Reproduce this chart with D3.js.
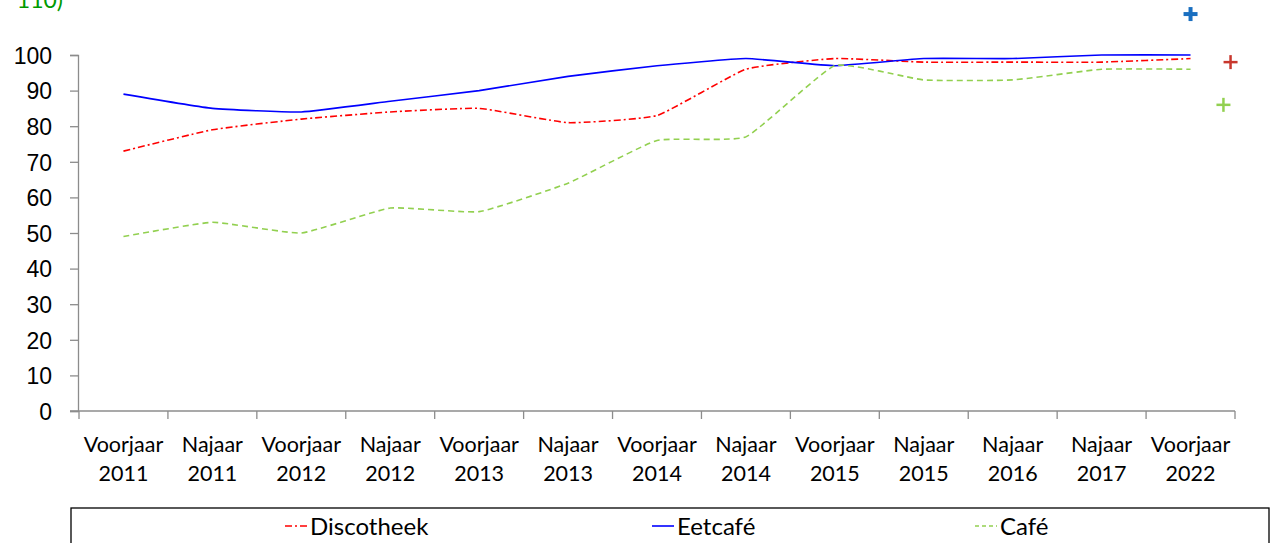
<!DOCTYPE html>
<html>
<head>
<meta charset="utf-8">
<script src="https://cdn.jsdelivr.net/npm/d3@7"></script>
<style>
  body { margin: 0; background: #fff; }
  svg { display: block; font-family: Lato, "Open Sans", sans-serif; }
</style>
</head>
<body>
<svg width="1271" height="543"></svg>
<script>
// categories along the x axis (two lines each)
const categories = ["Voorjaar 2011", "Najaar 2011", "Voorjaar 2012", "Najaar 2012", "Voorjaar 2013",
  "Najaar 2013", "Voorjaar 2014", "Najaar 2014", "Voorjaar 2015", "Najaar 2015",
  "Najaar 2016", "Najaar 2017", "Voorjaar 2022"];

const discotheek = [73, 79, 82, 84, 85, 81, 83, 96, 99, 98, 98, 98, 99];
const eetcafe    = [89, 85, 84, 87, 90, 94, 97, 99, 97, 99, 99, 100, 100];
const cafe       = [49, 53, 50, 57, 56, 64, 76, 77, 97, 93, 93, 96, 96];

const yTicks = [0, 10, 20, 30, 40, 50, 60, 70, 80, 90, 100];

// loose "+" markers on the right (position in category units, value)
const markerPos    = [12, 12.45, 12.37];
const markerValues = [111.5, 98, 86];

const series = [
  { name: "Discotheek", values: discotheek, color: "#ff0000", dash: "7,3,2,3" },
  { name: "Eetcafé",    values: eetcafe,    color: "#0000ff", dash: null },
  { name: "Café",       values: cafe,       color: "#92d050", dash: "6,4" }
];
const markerStyle = [
  { color: "#1a6fc0", size: 7, width: 4 },
  { color: "#c8372d", size: 7, width: 2.5 },
  { color: "#92d050", size: 7, width: 2.5 }
];

const svg = d3.select("svg");

const xScale = d3.scaleBand().domain(categories).range([79, 1235]);
const yScale = d3.scaleLinear().domain([0, 100]).range([411, 55]);
const posScale = d3.scaleLinear().domain([0, categories.length]).range([79, 1235]);

// label at the very top, cut off by the top edge as in the original
svg.append("text")
   .attr("x", 63).attr("y", 8)
   .attr("text-anchor", "end")
   .style("font-size", "23px")
   .style("fill", "#009a00")
   .text("110)");

// y axis
const yAxis = svg.append("g")
   .attr("transform", "translate(78,0)")
   .call(d3.axisLeft(yScale).tickValues(yTicks).tickSize(8).tickPadding(18));
yAxis.select(".domain").attr("stroke", "#8c8c8c").attr("stroke-width", 1.3);
yAxis.selectAll(".tick line").attr("stroke", "#8c8c8c").attr("stroke-width", 1.3);
yAxis.selectAll(".tick text").style("font-size", "23px").style("fill", "#000").attr("dy", "0.36em");

// x axis
const xAxis = svg.append("g").attr("transform", "translate(0,411)");
xAxis.append("line")
     .attr("x1", 70).attr("x2", 1235)
     .attr("stroke", "#8c8c8c").attr("stroke-width", 1.3);
xAxis.selectAll(".xt")
     .data(d3.range(categories.length + 1))
     .enter()
     .append("line")
     .attr("x1", d => posScale(d)).attr("x2", d => posScale(d))
     .attr("y1", 0).attr("y2", 8)
     .attr("stroke", "#8c8c8c").attr("stroke-width", 1.3);

const labels = xAxis.selectAll(".xl")
     .data(categories)
     .enter()
     .append("text")
     .attr("text-anchor", "middle")
     .attr("x", d => xScale(d) + xScale.bandwidth() / 2)
     .style("font-size", "21.5px")
     .style("fill", "#000");
labels.append("tspan").attr("y", 41).text(d => d.split(" ")[0])
      .attr("x", d => xScale(d) + xScale.bandwidth() / 2);
labels.append("tspan").attr("y", 70).text(d => d.split(" ")[1])
      .attr("x", d => xScale(d) + xScale.bandwidth() / 2);

// lines (lightly smoothed)
const line = d3.line()
  .x((d, i) => xScale(categories[i]) + xScale.bandwidth() / 2)
  .y(d => yScale(d))
  .curve(d3.curveCardinal.tension(0.6));

series.forEach(s => {
  svg.append("path")
     .datum(s.values)
     .attr("d", line)
     .attr("fill", "none")
     .attr("stroke", s.color)
     .attr("stroke-width", 1.6)
     .attr("stroke-dasharray", s.dash);
});

// plus markers
markerValues.forEach((v, i) => {
  const cx = posScale(markerPos[i] + 0.5), cy = yScale(v), m = markerStyle[i];
  const g = svg.append("g").attr("stroke", m.color).attr("stroke-width", m.width);
  g.append("line").attr("x1", cx - m.size).attr("x2", cx + m.size).attr("y1", cy).attr("y2", cy);
  g.append("line").attr("x1", cx).attr("x2", cx).attr("y1", cy - m.size).attr("y2", cy + m.size);
});

// legend
svg.append("rect")
   .attr("x", 71).attr("y", 508).attr("width", 1198).attr("height", 60)
   .attr("fill", "none").attr("stroke", "#000").attr("stroke-width", 1.3);

const legendX = [285, 652, 975];
series.forEach((s, i) => {
  svg.append("line")
     .attr("x1", legendX[i]).attr("x2", legendX[i] + 22)
     .attr("y1", 526).attr("y2", 526)
     .attr("stroke", s.color).attr("stroke-width", 1.6)
     .attr("stroke-dasharray", s.dash ? (i === 0 ? "7,3,2,3" : "4,3") : null);
  svg.append("text")
     .attr("x", legendX[i] + 25).attr("y", 535)
     .style("font-size", "24px")
     .style("fill", "#000")
     .text(s.name);
});
</script>
</body>
</html>
